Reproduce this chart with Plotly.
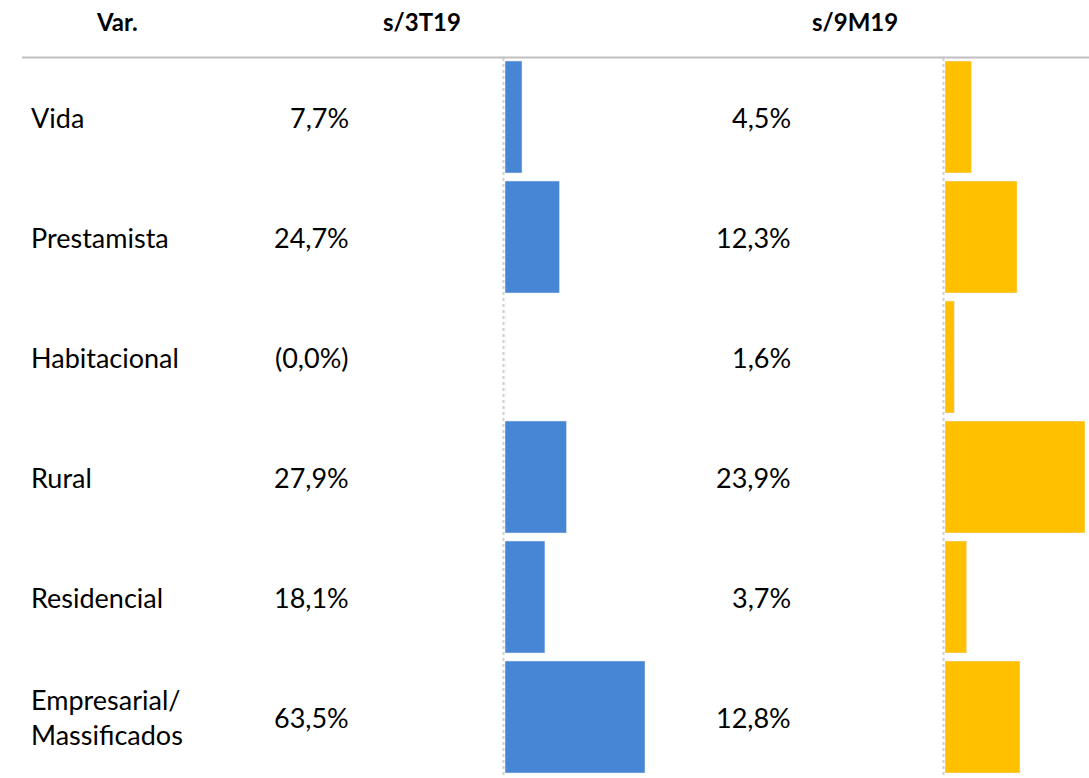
import plotly.graph_objects as go

categories = ["Vida", "Prestamista", "Habitacional", "Rural", "Residencial", "Empresarial/<br>Massificados"]
var_3t19 = [7.7, 24.7, -0.01, 27.9, 18.1, 63.5]
var_9m19 = [4.5, 12.3, 1.6, 23.9, 3.7, 12.8]
headers = ["Var.", "s/3T19", "s/9M19"]

W, H = 1089, 778
BLUE = "#4686d4"
YELLOW = "#ffc000"
FONT = "Lato"
FS = 27


def fmt(v):
    s = f"{abs(v):.1f}".replace(".", ",") + "%"
    return f"({s})" if v < 0 else s


def px(x):
    return x / W


def py(y):
    return 1 - y / H


fig = go.Figure()
fig.add_trace(go.Bar(y=categories, x=var_3t19, orientation="h", marker_color=BLUE,
                     xaxis="x", yaxis="y", hoverinfo="x+y"))
fig.add_trace(go.Bar(y=categories, x=var_9m19, orientation="h", marker_color=YELLOW,
                     xaxis="x2", yaxis="y", hoverinfo="x+y"))

ann = []
for c, a, b in zip(categories, var_3t19, var_9m19):
    ann.append(dict(x=px(29), y=c, xref="paper", yref="y", text=c, showarrow=False,
                    xanchor="left", align="left", font=dict(family=FONT, size=FS, color="#000")))
    ann.append(dict(x=px(351), y=c, xref="paper", yref="y", text=fmt(a), showarrow=False,
                    xanchor="right", font=dict(family=FONT, size=FS, color="#000")))
    ann.append(dict(x=px(793), y=c, xref="paper", yref="y", text=fmt(b), showarrow=False,
                    xanchor="right", font=dict(family=FONT, size=FS, color="#000")))

for h, xc in zip(headers, [117, 422, 855]):
    ann.append(dict(x=px(xc), y=py(22), xref="paper", yref="paper", text=f"<b>{h}</b>",
                    showarrow=False, xanchor="center", yanchor="middle",
                    font=dict(family=FONT, size=24, color="#000")))

shapes = [
    dict(type="line", xref="paper", yref="paper", x0=px(22), x1=1, y0=py(57.5), y1=py(57.5),
         line=dict(color="#bfbfbf", width=2)),
    dict(type="line", xref="paper", yref="paper", x0=px(503.5), x1=px(503.5), y0=py(58), y1=0,
         line=dict(color="#d0d0d0", width=2, dash="dot")),
    dict(type="line", xref="paper", yref="paper", x0=px(943.5), x1=px(943.5), y0=py(58), y1=0,
         line=dict(color="#d0d0d0", width=2, dash="dot")),
]

fig.update_layout(
    width=W, height=H, margin=dict(l=0, r=0, t=0, b=0),
    paper_bgcolor="white", plot_bgcolor="white",
    barmode="overlay", bargap=8 / 120, showlegend=False,
    xaxis=dict(domain=[px(505), px(645)], range=[0, max(var_3t19)], visible=False, fixedrange=True),
    xaxis2=dict(domain=[px(945), px(1085)], range=[0, max(var_9m19)], visible=False, fixedrange=True),
    yaxis=dict(domain=[py(777), py(57)], autorange="reversed", visible=False, fixedrange=True),
    annotations=ann, shapes=shapes,
)

fig.write_html("out.html", config={"displayModeBar": False},
               post_script="document.body.style.margin='0';document.body.style.padding='0';document.body.style.overflow='hidden';")
